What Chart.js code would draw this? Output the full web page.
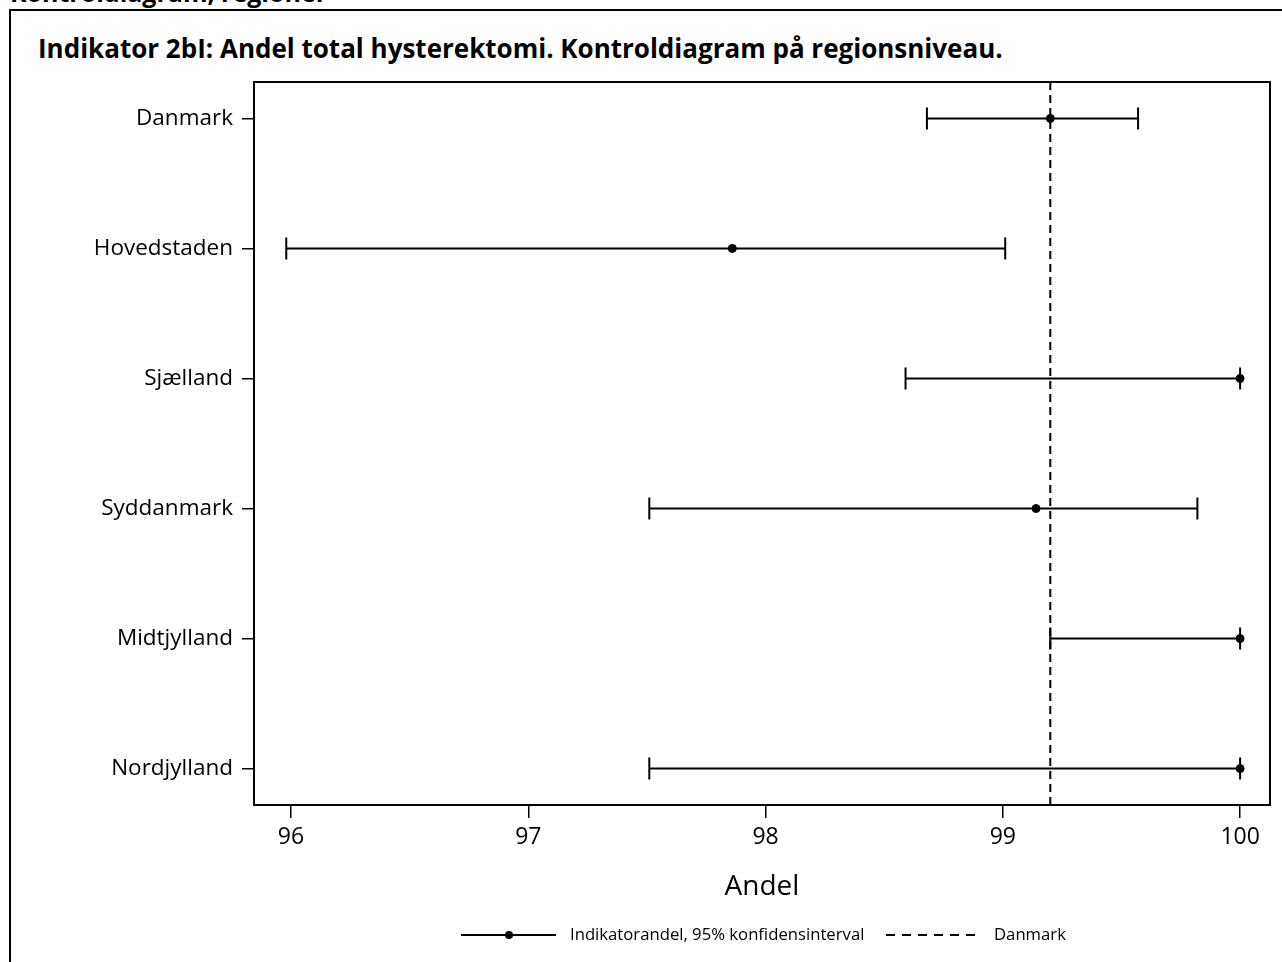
<!DOCTYPE html>
<html lang="da">
<head>
<meta charset="utf-8">
<script src="https://cdn.jsdelivr.net/npm/chart.js@4.4.1/dist/chart.umd.min.js"></script>
<style>
  body { margin: 0; background: #fff; }
  #wrap { position: relative; width: 1282px; height: 962px; overflow: hidden; font-family: "Open Sans", sans-serif; color: #000; }
  #hdr { position: absolute; left: 10px; top: -25px; font-weight: bold; font-size: 25px; line-height: 34px; white-space: nowrap; }
  #frame { position: absolute; left: 9px; top: 9px; width: 1300px; height: 1000px; border-left: 2px solid #000; border-top: 2px solid #000; }
  #ttl { position: absolute; left: 38px; top: 31px; font-weight: bold; font-size: 26px; line-height: 34px; white-space: nowrap; }
  canvas { position: absolute; left: 0; top: 0; }
</style>
</head>
<body>
<div id="wrap">
  <div id="hdr">Kontroldiagram, regioner</div>
  <div id="frame"></div>
  <div id="ttl">Indikator 2bI: Andel total hysterektomi. Kontroldiagram på regionsniveau.</div>
  <canvas id="kontrol" width="1282" height="962"></canvas>
</div>
<script>
// regioner og indikatorandele (%) med 95% konfidensinterval
const regioner = ['Danmark', 'Hovedstaden', 'Sjælland', 'Syddanmark', 'Midtjylland', 'Nordjylland'];
const andel = [99.20, 97.86, 100.00, 99.14, 100.00, 100.00];
const nedre = [98.68, 95.98, 98.59, 97.51, 99.20, 97.51];
const oevre = [99.57, 99.01, 100.00, 99.82, 100.00, 100.00];
const landsniveau = 99.20;
const xTicks = [96, 97, 98, 99, 100];

const FONT = '"Open Sans", sans-serif';

// fejlbjælker, landslinje, ramme og forklaring
const kontrolPlugin = {
  id: 'kontrol',
  beforeDatasetsDraw(chart) {
    const ctx = chart.ctx, xs = chart.scales.x, ys = chart.scales.y, a = chart.chartArea;
    ctx.save();
    // landsniveau (stiplet)
    const xl = xs.getPixelForValue(landsniveau);
    ctx.strokeStyle = '#000';
    ctx.lineWidth = 2;
    ctx.setLineDash([8, 5]);
    ctx.beginPath();
    ctx.moveTo(xl, a.top);
    ctx.lineTo(xl, a.bottom);
    ctx.stroke();
    ctx.setLineDash([]);
    // konfidensintervaller
    for (let i = 0; i < regioner.length; i++) {
      const y = ys.getPixelForValue(i);
      const x1 = xs.getPixelForValue(nedre[i]);
      const x2 = xs.getPixelForValue(oevre[i]);
      ctx.beginPath();
      ctx.moveTo(x1, y); ctx.lineTo(x2, y);
      ctx.moveTo(x1, y - 11); ctx.lineTo(x1, y + 11);
      ctx.moveTo(x2, y - 11); ctx.lineTo(x2, y + 11);
      ctx.stroke();
    }
    ctx.restore();
  },
  afterDraw(chart) {
    const ctx = chart.ctx, a = chart.chartArea;
    ctx.save();
    ctx.strokeStyle = '#000';
    ctx.lineWidth = 2;
    ctx.strokeRect(a.left, a.top, a.right - a.left, a.bottom - a.top);

    // forklaring
    const ly = 935;
    ctx.beginPath();
    ctx.moveTo(461, ly); ctx.lineTo(556, ly);
    ctx.stroke();
    ctx.beginPath();
    ctx.arc(509, ly, 4, 0, Math.PI * 2);
    ctx.fillStyle = '#000';
    ctx.fill();
    ctx.setLineDash([9, 7]);
    ctx.beginPath();
    ctx.moveTo(886, ly); ctx.lineTo(976, ly);
    ctx.stroke();
    ctx.setLineDash([]);
    ctx.font = '16.7px ' + FONT;
    ctx.textBaseline = 'middle';
    ctx.fillText('Indikatorandel, 95% konfidensinterval', 570, ly);
    ctx.fillText('Danmark', 994, ly);
    ctx.restore();
  }
};

new Chart(document.getElementById('kontrol'), {
  type: 'scatter',
  data: {
    datasets: [{
      label: 'Indikatorandel, 95% konfidensinterval',
      data: andel.map((v, i) => ({ x: v, y: i })),
      backgroundColor: '#000',
      borderColor: '#000',
      pointRadius: 4,
      pointHoverRadius: 4,
      showLine: false
    }]
  },
  options: {
    responsive: false,
    animation: false,
    events: [],
    layout: { padding: { top: 82, right: 12, left: 0, bottom: 58 } },
    plugins: { legend: { display: false }, tooltip: { enabled: false } },
    scales: {
      x: {
        type: 'linear',
        min: 95.844,
        max: 100.126,
        afterBuildTicks: s => { s.ticks = xTicks.map(v => ({ value: v })); },
        afterFit: s => { s.height = 99; },
        border: { display: false },
        grid: { drawOnChartArea: false, drawTicks: true, tickLength: 13, tickColor: '#000', lineWidth: 1.5 },
        ticks: { color: '#000', padding: 6, font: { family: FONT, size: 23 }, callback: v => String(v) },
        title: { display: true, text: 'Andel', color: '#000', padding: 0, font: { family: FONT, size: 28 } }
      },
      y: {
        type: 'linear',
        reverse: true,
        min: -0.28,
        max: 5.28,
        afterBuildTicks: s => { s.ticks = regioner.map((_, i) => ({ value: i })); },
        afterFit: s => { s.width = 254; },
        border: { display: false },
        grid: { drawOnChartArea: false, drawTicks: true, tickLength: 12, tickColor: '#000', lineWidth: 1.5 },
        ticks: { color: '#000', padding: 9, font: { family: FONT, size: 22.5 }, callback: v => regioner[v] }
      }
    }
  },
  plugins: [kontrolPlugin]
});
</script>
</body>
</html>
